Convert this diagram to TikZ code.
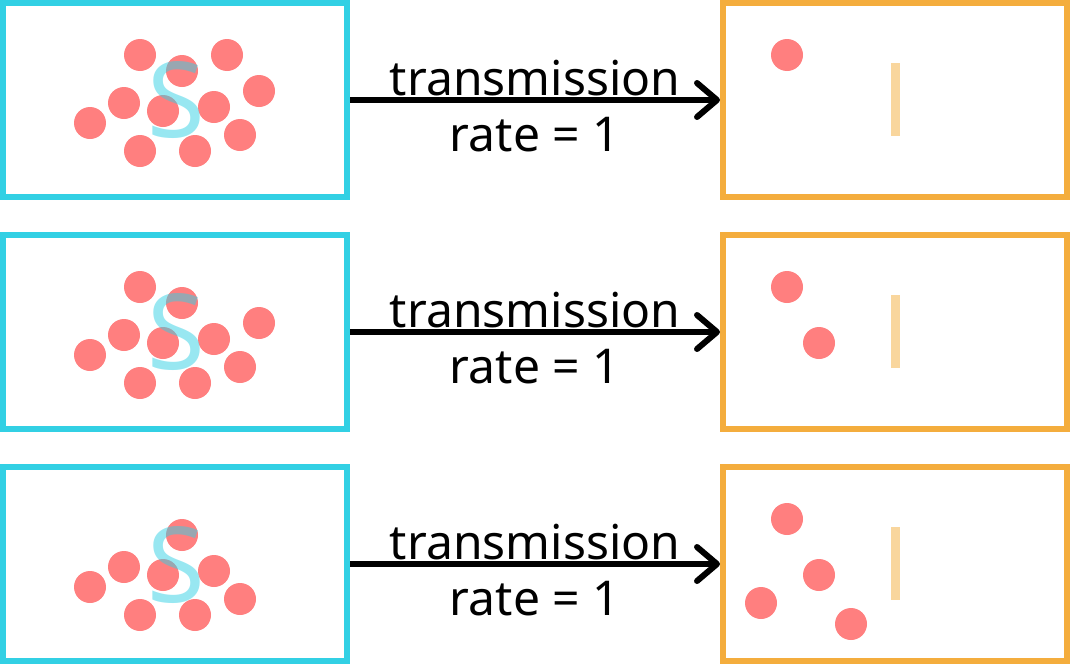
\documentclass[tikz,border=0pt]{standalone}
\usepackage{fontspec}
\setmainfont{Noto Sans}
\usetikzlibrary{arrows.meta}
\definecolor{cyanc}{RGB}{50,208,228}
\definecolor{orangec}{RGB}{244,173,61}
\definecolor{dotc}{RGB}{255,127,127}
\definecolor{barc}{RGB}{249,214,157}
\tikzset{
  lbox/.style={draw=cyanc, line width=6pt, rectangle, minimum width=344pt, minimum height=194pt, inner sep=0pt},
  rbox/.style={draw=orangec, line width=6pt, rectangle, minimum width=344pt, minimum height=194pt, inner sep=0pt},
  dot/.style={fill=dotc},
  barfill/.style={fill=barc},
  arr/.style={line width=6pt, -{Straight Barb[round, length=20pt, width=34pt]}},
  lbl/.style={font=\fontsize{48}{56}\selectfont, inner sep=0pt, anchor=base},
  ess/.style={font=\fontsize{105}{110}\selectfont, text=cyanc, text opacity=0.5, inner sep=0pt, anchor=base}
}
\begin{document}
\begin{tikzpicture}[x=1pt, y=-1pt]
\useasboundingbox (0,0) rectangle (1070,664);
% ---------- row 1 ----------
\begin{scope}
  \node[lbox] (L1) at (175,100) {};
  \node[rbox] (R1) at (895,100) {};
  \foreach \p in {(140,55),(182,71),(227,55),(259,91),(124,103),(163,111),(214,107),(90,123),(240,135),(140,151),(195,151)}
    \fill[dot] \p circle (16);
  \node[ess] (S1) at (176,137) {S};
  \fill[dot] (787,55) circle (16);
  \fill[barfill] (890.5,63) rectangle (899.5,136);
  \draw[arr] (L1.east) -- (R1.west);
  \node[lbl] (T1) at (535,95) {transmission};
  \node[lbl] (Q1) at (535,151.5) {rate = 1};
\end{scope}
% ---------- row 2 ----------
\begin{scope}[shift={(0,232)}]
  \node[lbox] (L2) at (175,100) {};
  \node[rbox] (R2) at (895,100) {};
  \foreach \p in {(140,55),(182,71),(259,91),(124,103),(163,111),(214,107),(90,123),(240,135),(140,151),(195,151)}
    \fill[dot] \p circle (16);
  \node[ess] (S2) at (176,137) {S};
  \fill[dot] (787,55) circle (16);
  \fill[dot] (819,111) circle (16);
  \fill[barfill] (890.5,63) rectangle (899.5,136);
  \draw[arr] (L2.east) -- (R2.west);
  \node[lbl] (T2) at (535,95) {transmission};
  \node[lbl] (Q2) at (535,151.5) {rate = 1};
\end{scope}
% ---------- row 3 ----------
\begin{scope}[shift={(0,464)}]
  \node[lbox] (L3) at (175,100) {};
  \node[rbox] (R3) at (895,100) {};
  \foreach \p in {(182,71),(124,103),(163,111),(214,107),(90,123),(240,135),(140,151),(195,151)}
    \fill[dot] \p circle (16);
  \node[ess] (S3) at (176,138) {S};
  \fill[dot] (787,55) circle (16);
  \fill[dot] (819,111) circle (16);
  \fill[dot] (761,139) circle (16);
  \fill[dot] (851,160) circle (16);
  \fill[barfill] (890.5,63) rectangle (899.5,136);
  \draw[arr] (L3.east) -- (R3.west);
  \node[lbl] (T3) at (535,95) {transmission};
  \node[lbl] (Q3) at (535,151.5) {rate = 1};
\end{scope}
\end{tikzpicture}
\end{document}
